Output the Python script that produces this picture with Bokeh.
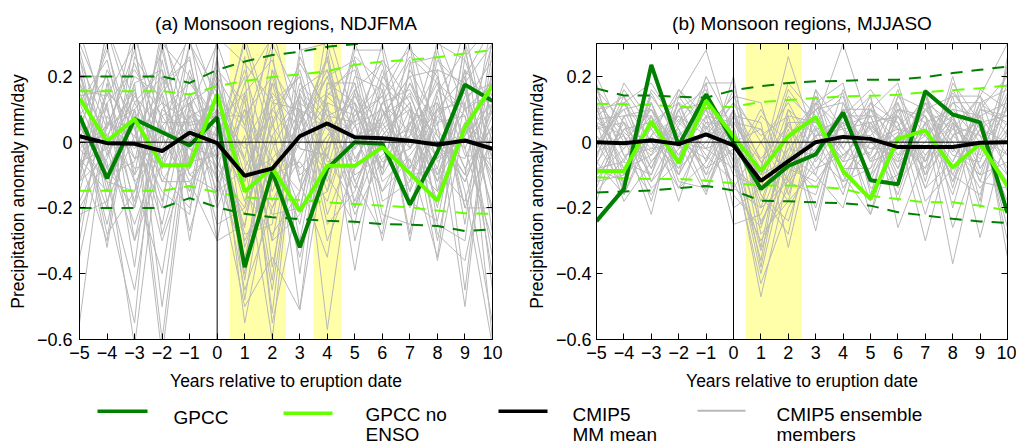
from bokeh.plotting import figure
from bokeh.layouts import column, row
from bokeh.models import (Range1d, LinearAxis, FixedTicker, CustomJSTickFormatter,
                          Span, BoxAnnotation)
from bokeh.core.properties import value
from bokeh.embed import file_html
from bokeh.resources import INLINE

FONT = "Liberation Sans"

# Years relative to the eruption
years = list(range(-5, 11))
y_ticks = [-0.6, -0.4, -0.2, 0.0, 0.2]

# ---------------- (a) Monsoon regions, NDJFMA ----------------
a_title = "(a) Monsoon regions, NDJFMA"
a_gpcc = [0.08, -0.11, 0.07, 0.03, -0.01, 0.075, -0.38, -0.09, -0.32, -0.08,
          0.0, -0.005, -0.19, -0.03, 0.175, 0.125]
a_gpcc_noenso = [0.133, 0.003, 0.07, -0.07, -0.07, 0.145, -0.15, -0.078, -0.21,
                 -0.072, -0.072, -0.015, -0.095, -0.178, 0.045, 0.172]
a_mm_mean = [0.018, -0.003, -0.005, -0.027, 0.029, -0.003, -0.102, -0.08, 0.018,
             0.057, 0.015, 0.012, 0.004, -0.008, 0.005, -0.02]
a_gpcc_hi = [0.20, 0.20, 0.20, 0.20, 0.18, 0.22, 0.245, 0.265, 0.275, 0.29,
             0.298, 0.31, 0.32, 0.33, 0.34, 0.35]
a_gpcc_lo = [-0.20, -0.20, -0.20, -0.20, -0.17, -0.198, -0.218, -0.228, -0.234,
             -0.239, -0.242, -0.249, -0.251, -0.255, -0.27, -0.265]
a_noenso_hi = [0.155, 0.155, 0.155, 0.155, 0.145, 0.17, 0.186, 0.198, 0.206,
               0.216, 0.235, 0.245, 0.25, 0.258, 0.27, 0.28]
a_noenso_lo = [-0.148, -0.148, -0.148, -0.148, -0.133, -0.153, -0.168, -0.172,
               -0.176, -0.183, -0.188, -0.193, -0.198, -0.208, -0.216, -0.218]
a_shade = [(0.45, 2.5), (3.5, 4.5)]
a_members = [
    [0.05, -0.10, 0.12, -0.05, 0.08, 0.02, -0.15, -0.08, 0.10, 0.04, -0.06, 0.12, 0.03, -0.10, 0.06, -0.02],
    [-0.12, 0.06, -0.02, 0.15, -0.08, 0.10, -0.05, -0.20, 0.02, 0.14, 0.05, -0.08, 0.10, 0.02, -0.12, 0.08],
    [0.18, 0.02, -0.10, 0.05, 0.12, -0.06, -0.22, 0.05, -0.08, 0.02, 0.16, 0.04, -0.12, 0.08, 0.15, -0.05],
    [-0.05, -0.15, 0.08, -0.12, 0.02, 0.14, 0.04, -0.12, 0.15, -0.06, -0.02, 0.08, 0.14, -0.05, 0.02, 0.20],
    [0.08, 0.20, -0.05, 0.02, -0.15, 0.05, -0.30, -0.10, 0.06, 0.20, -0.10, -0.04, 0.06, 0.12, -0.08, 0.05],
    [-0.20, -0.05, 0.15, -0.08, 0.10, -0.12, 0.10, -0.05, -0.15, 0.08, 0.12, -0.15, 0.02, 0.18, 0.10, -0.12],
    [0.02, 0.10, -0.18, 0.20, 0.05, 0.08, -0.12, 0.15, 0.04, -0.10, 0.05, 0.10, -0.06, -0.15, 0.22, 0.10],
    [0.12, -0.08, 0.05, -0.25, 0.15, -0.02, -0.45, -0.20, -0.05, 0.10, 0.02, -0.02, 0.18, -0.02, -0.05, 0.15],
    [-0.08, 0.12, 0.22, 0.08, -0.05, 0.20, 0.05, -0.30, 0.12, 0.05, -0.14, 0.06, -0.10, 0.06, 0.08, -0.20],
    [0.15, -0.02, -0.30, 0.10, 0.02, -0.08, -0.20, 0.02, -0.20, -0.15, 0.08, 0.18, 0.08, -0.08, -0.18, 0.12],
    [-0.02, 0.05, 0.10, -0.18, 0.20, 0.06, 0.15, -0.15, 0.08, 0.15, 0.10, -0.06, -0.02, 0.10, 0.12, 0.25],
    [0.22, -0.18, 0.02, 0.12, -0.10, -0.15, -0.08, 0.10, -0.02, -0.04, -0.20, 0.02, 0.12, -0.12, 0.04, -0.08],
    [-0.15, 0.15, -0.08, -0.05, 0.08, 0.12, -0.55, -0.12, 0.18, 0.08, 0.06, 0.14, -0.15, 0.04, -0.10, 0.05],
    [0.10, -0.32, 0.18, 0.22, -0.02, -0.04, 0.08, 0.20, -0.10, -0.02, 0.15, -0.10, 0.05, 0.22, 0.18, -0.15],
    [-0.55, 0.08, -0.05, -0.02, 0.12, 0.18, -0.10, -0.05, 0.05, 0.25, -0.05, 0.08, 0.20, -0.06, 0.02, 0.30],
    [0.06, -0.06, -0.62, 0.05, -0.12, -0.30, -0.25, 0.12, 0.20, -0.12, 0.12, -0.02, -0.08, 0.14, -0.15, -0.62],
    [-0.10, 0.22, 0.06, -0.65, 0.04, 0.02, 0.20, -0.55, -0.15, 0.06, -0.08, 0.20, 0.10, -0.20, 0.30, 0.08],
    [0.25, 0.04, 0.28, -0.10, -0.20, 0.10, -0.02, 0.08, -0.51, 0.18, 0.18, -0.12, -0.04, 0.08, -0.02, -0.30],
    [-0.02, -0.12, -0.15, 0.18, 0.25, -0.10, -0.35, -0.02, 0.14, -0.57, 0.02, 0.05, 0.15, -0.10, 0.14, 0.18],
    [0.14, 0.16, 0.04, -0.30, -0.05, 0.22, 0.12, -0.18, 0.00, 0.12, -0.39, 0.10, -0.02, 0.20, -0.04, -0.05],
    [-0.06, -0.02, 0.20, 0.14, -0.27, 0.04, -0.40, 0.22, -0.12, 0.02, 0.06, -0.30, 0.08, -0.05, 0.10, 0.15],
    [0.30, 0.10, -0.12, -0.02, 0.14, -0.20, 0.02, -0.45, 0.10, -0.08, 0.20, 0.16, -0.30, 0.12, -0.20, 0.02],
    [0.02, -0.20, 0.32, 0.06, 0.06, 0.08, -0.18, 0.06, 0.24, 0.10, -0.12, 0.04, 0.10, -0.36, 0.06, -0.10],
    [-0.25, 0.12, -0.38, 0.25, -0.10, -0.02, 0.22, -0.10, -0.06, -0.18, 0.10, -0.08, 0.22, 0.06, -0.50, 0.22],
    [0.04, 0.28, 0.00, -0.20, 0.30, 0.15, -0.12, 0.18, 0.06, 0.22, -0.02, 0.22, -0.08, 0.16, 0.08, -0.40],
    [-0.12, -0.04, 0.14, 0.04, -0.02, -0.10, -0.50, -0.35, -0.51, 0.00, 0.14, 0.00, 0.04, -0.12, 0.20, 0.35],
    [0.18, -0.10, -0.06, 0.32, 0.10, 0.30, 0.05, 0.30, 0.12, -0.25, -0.15, 0.12, 0.16, 0.00, -0.12, 0.10],
    [0.00, 0.02, 0.16, -0.12, -0.12, 0.00, 0.30, 0.00, -0.25, 0.16, 0.22, -0.18, -0.12, 0.25, 0.16, -0.22],
    [-0.30, 0.18, -0.20, 0.10, 0.18, 0.06, -0.28, -0.25, 0.28, 0.30, 0.00, 0.06, 0.25, -0.15, 0.02, 0.12],
    [0.08, -0.25, 0.10, -0.60, 0.08, -0.15, 0.15, 0.25, -0.02, -0.04, 0.28, 0.28, -0.20, 0.10, -0.08, -0.55],
    [0.20, 0.00, -0.25, 0.00, 0.35, 0.12, -0.06, -0.60, 0.16, 0.06, -0.22, -0.05, 0.02, 0.30, 0.25, 0.00],
    [-0.08, 0.34, 0.06, 0.28, -0.06, -0.04, 0.00, 0.14, -0.30, 0.12, 0.08, 0.14, 0.30, -0.25, -0.30, 0.28],
    [0.12, 0.25, -0.10, 0.35, 0.00, 0.18, -0.05, 0.35, 0.02, 0.20, 0.25, -0.02, 0.18, 0.05, 0.35, -0.10],
    [-0.18, 0.00, 0.35, -0.08, 0.22, -0.05, 0.32, 0.05, 0.22, -0.05, 0.30, 0.10, -0.15, 0.28, -0.02, 0.18],
    [0.26, -0.15, 0.10, 0.20, -0.18, 0.25, -0.15, -0.28, -0.15, 0.35, 0.06, 0.25, 0.12, -0.30, 0.12, -0.35],
    [0.03, 0.30, -0.12, -0.40, 0.12, -0.08, 0.18, 0.32, 0.30, -0.10, -0.25, 0.20, 0.28, 0.20, -0.25, 0.32],
    [-0.35, 0.05, 0.24, 0.02, -0.15, 0.26, -0.32, -0.05, -0.35, 0.00, 0.18, -0.22, -0.25, 0.15, 0.28, -0.05],
    [0.10, -0.28, -0.15, 0.15, 0.26, -0.18, 0.26, -0.38, 0.05, 0.26, -0.30, 0.02, 0.12, -0.28, -0.36, 0.05],
    [0.16, 0.14, 0.30, -0.28, 0.00, 0.10, -0.42, 0.10, 0.20, -0.22, 0.00, 0.30, -0.02, 0.10, 0.20, -0.60],
    [-0.22, -0.18, -0.55, 0.30, 0.20, -0.02, 0.00, -0.22, -0.20, 0.14, 0.24, -0.10, 0.30, 0.02, -0.10, 0.38],
    [0.34, 0.06, 0.02, -0.15, -0.22, 0.32, 0.24, 0.12, 0.10, -0.30, -0.08, 0.16, -0.28, 0.32, 0.10, 0.18],
    [-0.05, -0.30, 0.26, 0.12, 0.06, -0.25, -0.20, 0.28, -0.40, 0.18, 0.12, -0.25, 0.06, -0.18, 0.30, -0.28],
    [0.20, 0.20, -0.30, -0.06, 0.30, 0.08, 0.08, -0.42, 0.26, 0.08, -0.18, 0.08, 0.20, 0.22, -0.45, 0.24],
    [-0.12, 0.35, 0.12, 0.22, -0.30, 0.16, -0.38, 0.18, -0.12, -0.35, 0.16, 0.24, -0.10, -0.08, 0.22, -0.45],
    [0.00, -0.12, -0.45, 0.08, 0.14, -0.30, 0.14, -0.52, 0.16, 0.22, -0.12, -0.28, 0.24, 0.26, 0.00, 0.10],
    [0.28, -0.04, 0.18, -0.50, 0.10, 0.04, -0.26, 0.22, 0.08, -0.15, 0.26, 0.18, -0.18, -0.24, 0.18, 0.30],
    [-0.10, 0.16, 0.04, 0.16, 0.32, -0.12, 0.10, -0.30, -0.22, 0.28, -0.20, 0.12, 0.26, 0.18, -0.20, -0.20],
    [0.22, -0.08, -0.20, 0.30, -0.08, 0.22, -0.48, 0.02, 0.14, 0.04, 0.02, -0.15, -0.05, -0.35, 0.26, 0.36],
]

# ---------------- (b) Monsoon regions, MJJASO ----------------
b_title = "(b) Monsoon regions, MJJASO"
b_gpcc = [-0.24, -0.142, 0.235, -0.01, 0.145, 0.0, -0.142, -0.072, -0.037, 0.09,
          -0.116, -0.128, 0.155, 0.084, 0.06, -0.215]
b_gpcc_noenso = [-0.088, -0.088, 0.063, -0.064, 0.126, 0.018, -0.088, 0.018, 0.076,
                 -0.088, -0.173, 0.01, 0.036, -0.077, -0.004, -0.134]
b_mm_mean = [0.0, -0.003, 0.006, -0.006, 0.024, -0.01, -0.118, -0.058, 0.0, 0.016,
             0.01, -0.015, -0.015, -0.015, -0.002, 0.0]
b_gpcc_hi = [0.163, 0.142, 0.142, 0.138, 0.135, 0.158, 0.17, 0.18, 0.185, 0.186,
             0.19, 0.19, 0.198, 0.21, 0.22, 0.23]
b_gpcc_lo = [-0.153, -0.15, -0.147, -0.14, -0.133, -0.147, -0.178, -0.18, -0.183,
             -0.186, -0.193, -0.213, -0.223, -0.233, -0.241, -0.246]
b_noenso_hi = [0.117, 0.115, 0.113, 0.108, 0.103, 0.108, 0.122, 0.128, 0.134,
               0.139, 0.141, 0.144, 0.152, 0.158, 0.164, 0.172]
b_noenso_lo = [-0.107, -0.11, -0.112, -0.112, -0.117, -0.125, -0.132, -0.132,
               -0.135, -0.142, -0.163, -0.173, -0.183, -0.183, -0.193, -0.208]
b_shade = [(0.45, 2.5)]
b_members = [
    [0.05, -0.02, 0.08, -0.05, 0.10, 0.00, -0.10, -0.05, 0.04, 0.06, -0.02, 0.03, -0.06, 0.05, 0.02, -0.04],
    [-0.06, 0.04, -0.03, 0.07, -0.02, -0.08, -0.15, -0.02, 0.08, -0.04, 0.05, -0.05, 0.04, -0.08, 0.06, 0.08],
    [0.10, -0.08, 0.02, -0.10, 0.06, 0.05, -0.20, -0.12, -0.02, 0.10, -0.06, 0.08, -0.10, 0.02, -0.05, 0.02],
    [-0.02, 0.12, -0.06, 0.03, -0.08, 0.08, -0.05, 0.05, -0.08, 0.02, 0.10, -0.08, 0.06, 0.10, 0.00, -0.10],
    [0.14, 0.00, 0.10, -0.02, 0.02, -0.04, -0.47, -0.10, 0.05, -0.06, -0.03, 0.05, 0.12, -0.03, 0.08, 0.12],
    [-0.10, 0.06, -0.08, 0.10, 0.12, 0.02, -0.08, 0.26, 0.00, 0.05, 0.08, -0.12, -0.02, 0.07, -0.10, -0.06],
    [0.02, -0.12, 0.15, 0.00, -0.05, 0.10, -0.12, -0.06, 0.12, -0.10, 0.02, 0.10, 0.08, -0.12, 0.12, 0.05],
    [0.07, 0.08, -0.12, 0.05, 0.15, -0.06, -0.43, -0.20, -0.05, 0.08, -0.10, 0.00, -0.08, 0.04, -0.02, 0.15],
    [-0.15, -0.05, 0.04, -0.08, 0.00, 0.12, 0.02, 0.08, 0.06, 0.30, 0.04, -0.04, 0.02, 0.12, 0.05, -0.15],
    [0.12, 0.03, -0.04, 0.12, -0.10, -0.02, -0.33, -0.08, -0.12, 0.00, 0.12, 0.06, -0.14, -0.06, 0.10, 0.20],
    [-0.05, 0.18, 0.06, -0.04, 0.08, 0.06, -0.06, 0.02, 0.10, -0.08, -0.08, 0.14, 0.10, 0.00, -0.14, -0.02],
    [0.16, -0.04, -0.02, 0.08, -0.04, -0.12, -0.30, -0.14, 0.02, 0.04, 0.06, -0.06, 0.00, 0.15, 0.04, 0.10],
    [0.00, 0.10, 0.12, -0.06, 0.20, 0.04, -0.18, 0.04, -0.27, 0.12, -0.05, 0.02, 0.14, -0.10, 0.08, -0.30],
    [-0.08, -0.06, -0.10, 0.16, 0.04, 0.14, 0.12, -0.16, 0.08, -0.02, 0.14, -0.26, -0.04, 0.08, -0.08, 0.06],
    [0.08, 0.14, 0.00, -0.14, -0.06, 0.20, -0.25, -0.04, 0.14, -0.14, 0.00, 0.04, -0.30, 0.02, 0.14, 0.30],
    [-0.12, -0.10, 0.14, 0.02, 0.10, -0.10, -0.14, 0.10, -0.06, 0.06, -0.22, 0.10, 0.06, -0.37, 0.00, -0.12],
    [0.04, 0.06, -0.18, 0.10, -0.12, 0.08, 0.06, -0.32, 0.04, -0.05, 0.08, -0.10, 0.12, 0.06, -0.29, 0.04],
    [0.18, -0.14, 0.08, -0.18, 0.08, -0.25, -0.22, 0.00, 0.10, 0.15, -0.12, 0.08, -0.06, 0.12, 0.12, -0.35],
    [-0.03, 0.02, -0.22, 0.14, 0.28, 0.00, -0.10, 0.06, -0.10, -0.20, 0.10, 0.00, 0.08, -0.04, -0.06, 0.18],
    [0.11, -0.16, 0.05, 0.00, -0.02, 0.16, -0.28, -0.18, 0.16, 0.04, -0.04, 0.16, -0.12, 0.18, 0.06, -0.08],
    [-0.18, 0.08, 0.10, -0.10, 0.05, -0.14, 0.00, 0.12, -0.04, -0.12, 0.06, -0.08, 0.16, -0.14, 0.16, 0.10],
    [0.06, -0.18, -0.06, 0.06, 0.18, 0.18, -0.16, -0.24, 0.02, 0.08, 0.16, 0.04, 0.02, 0.08, -0.12, 0.14],
    [-0.07, 0.12, 0.18, 0.04, -0.15, 0.04, -0.38, 0.02, 0.12, 0.18, -0.16, 0.12, -0.18, -0.08, 0.04, 0.00],
    [0.20, 0.02, -0.14, -0.06, 0.12, -0.06, 0.10, -0.06, -0.14, 0.02, 0.02, -0.16, 0.10, 0.14, -0.18, 0.24],
    [0.04, 0.10, -0.08, 0.12, -0.06, 0.08, -0.12, 0.14, 0.06, -0.06, 0.10, 0.04, -0.02, 0.10, 0.08, -0.04],
    [-0.10, -0.02, 0.10, -0.04, 0.14, -0.02, -0.24, -0.10, 0.10, 0.12, -0.06, -0.02, 0.10, -0.02, -0.10, 0.14],
    [0.12, -0.10, 0.02, 0.08, 0.02, 0.12, -0.06, -0.18, -0.08, -0.04, 0.04, 0.12, -0.06, 0.16, 0.02, -0.18],
    [-0.04, 0.14, -0.12, -0.02, 0.10, -0.14, -0.20, 0.06, 0.06, 0.14, -0.14, -0.10, 0.04, -0.16, 0.10, 0.06],
    [0.08, -0.06, 0.12, -0.12, -0.14, 0.06, 0.04, -0.12, -0.16, 0.08, 0.08, 0.06, -0.22, 0.06, -0.04, 0.22],
    [-0.12, 0.04, 0.06, 0.12, 0.06, -0.04, -0.36, 0.10, 0.02, -0.16, 0.12, -0.04, 0.10, 0.04, 0.14, -0.10],
    [0.02, -0.08, -0.04, 0.04, -0.10, 0.10, -0.16, -0.28, 0.12, 0.04, -0.18, 0.14, 0.02, -0.10, -0.16, 0.12],
    [0.10, 0.12, 0.00, -0.08, 0.12, -0.08, 0.08, 0.00, -0.20, 0.10, 0.04, -0.14, 0.14, 0.02, 0.06, -0.26],
    [-0.08, -0.12, 0.16, 0.06, -0.02, 0.02, -0.10, 0.16, 0.04, -0.12, -0.08, 0.02, -0.08, 0.20, -0.08, 0.04],
    [0.06, 0.02, -0.10, 0.10, 0.16, -0.16, -0.26, -0.02, -0.04, 0.06, 0.14, -0.18, 0.06, -0.06, 0.12, 0.16],
    [-0.14, 0.08, 0.08, -0.14, 0.04, 0.14, 0.00, -0.14, 0.14, -0.02, -0.10, 0.10, -0.14, 0.08, -0.12, -0.14],
    [0.14, -0.04, -0.16, 0.02, -0.08, -0.02, -0.40, -0.04, -0.10, 0.16, 0.00, -0.06, 0.16, -0.20, 0.10, 0.08],
    [-0.02, 0.16, 0.04, 0.14, 0.02, 0.06, -0.08, 0.18, 0.08, -0.08, 0.06, 0.08, -0.04, 0.06, -0.20, 0.26],
    [0.00, -0.14, 0.12, -0.10, 0.18, -0.20, -0.14, -0.08, 0.02, 0.02, -0.02, -0.02, 0.12, -0.12, 0.04, -0.22],
    [0.16, 0.06, -0.02, 0.00, -0.16, 0.10, -0.32, 0.08, -0.24, 0.10, 0.10, 0.18, -0.10, 0.14, 0.14, 0.02],
    [-0.06, -0.16, 0.02, 0.16, 0.08, 0.00, 0.04, -0.12, 0.16, -0.10, -0.22, 0.02, 0.08, -0.26, -0.02, 0.10],
]

# Legend rows: (label lines, colour, width)
legend_entries = [
    (["GPCC"], "#008000", 3.5),
    (["GPCC no", "ENSO"], "#66ff00", 3.5),
    (["CMIP5", "MM mean"], "#000000", 3.5),
    (["CMIP5 ensemble", "members"], "#b8b8b8", 2),
]

DARK = "#008000"
LIGHT = "#66ff00"
GREY = "#b8b8b8"
SHADE = "#ffffaa"

y_fmt = CustomJSTickFormatter(code="""
    if (Math.abs(tick) < 1e-9) { return '0'; }
    return tick.toFixed(1).replace('-', '\u2212');
""")
x_fmt = CustomJSTickFormatter(code="return tick.toFixed(0).replace('-', '\u2212');")


def blank_axis(ticks):
    ax = LinearAxis(ticker=FixedTicker(ticks=ticks),
                    formatter=CustomJSTickFormatter(code="return '';"),
                    major_tick_in=6, major_tick_out=0,
                    minor_tick_line_color=None,
                    major_label_text_font_size="0px",
                    major_label_standoff=0,
                    axis_line_color="black")
    return ax


def panel(title, members, gpcc, noenso, mean, g_hi, g_lo, n_hi, n_lo, shade,
          left, right, tick_standoff, label_standoff):
    p = figure(width=508, height=395, x_range=Range1d(-5, 10),
               y_range=Range1d(-0.6, 0.3), output_backend="svg",
               toolbar_location=None, min_border_left=left,
               min_border_right=right, min_border_top=42, min_border_bottom=56)
    p.xgrid.visible = False
    p.ygrid.visible = False
    p.outline_line_color = "black"
    p.outline_line_width = 1
    p.background_fill_color = "white"

    p.title.text = title
    p.title.align = "center"
    p.title.text_font = FONT
    p.title.text_font_size = "19px"
    p.title.text_font_style = "normal"
    p.title.text_color = "black"
    p.title.standoff = 20

    for x0, x1 in shade:
        p.add_layout(BoxAnnotation(left=x0, right=x1, fill_color=SHADE,
                                   fill_alpha=1, line_alpha=0, level="underlay"))

    p.multi_line(xs=[years] * len(members), ys=members, line_color=GREY,
                 line_width=1)

    p.add_layout(Span(location=0, dimension="height", line_color="black",
                      line_width=1))
    p.add_layout(Span(location=0, dimension="width", line_color="black",
                      line_width=1))

    for ys, col in ((g_hi, DARK), (g_lo, DARK), (n_hi, LIGHT), (n_lo, LIGHT)):
        p.line(years, ys, line_color=col, line_width=2, line_dash="12 9")

    p.line(years, gpcc, line_color=DARK, line_width=4)
    p.line(years, noenso, line_color=LIGHT, line_width=4)
    p.line(years, mean, line_color="black", line_width=4)

    for ax in (p.xaxis[0], p.yaxis[0]):
        ax.major_tick_in = 6
        ax.major_tick_out = 0
        ax.minor_tick_line_color = None
        ax.axis_line_color = "black"
        ax.major_label_text_font = FONT
        ax.major_label_text_font_size = "18px"
        ax.major_label_text_color = "black"
        ax.axis_label_text_font = FONT
        ax.axis_label_text_font_size = "17.5px"
        ax.axis_label_text_font_style = "normal"
        ax.axis_label_text_color = "black"

    p.xaxis.ticker = FixedTicker(ticks=years)
    p.xaxis.formatter = x_fmt
    p.xaxis.axis_label = "Years relative to eruption date"
    p.xaxis.major_label_standoff = 6
    p.xaxis.axis_label_standoff = 9

    p.yaxis.ticker = FixedTicker(ticks=y_ticks)
    p.yaxis.formatter = y_fmt
    p.yaxis.axis_label = "Precipitation anomaly mm/day"
    p.yaxis.major_label_standoff = tick_standoff
    p.yaxis.axis_label_standoff = label_standoff

    p.add_layout(blank_axis(y_ticks), "right")
    p.add_layout(blank_axis(years), "above")
    return p


pa = panel(a_title, a_members, a_gpcc, a_gpcc_noenso, a_mm_mean, a_gpcc_hi,
           a_gpcc_lo, a_noenso_hi, a_noenso_lo, a_shade, 79, 16, 7, 6)
pb = panel(b_title, b_members, b_gpcc, b_gpcc_noenso, b_mm_mean, b_gpcc_hi,
           b_gpcc_lo, b_noenso_hi, b_noenso_lo, b_shade, 88, 9, 5, 6)

# Legend strip drawn in pixel units
leg = figure(width=1016, height=48, x_range=Range1d(0, 1016), y_range=Range1d(48, 0),
             output_backend="svg", toolbar_location=None, min_border=0,
             x_axis_type=None, y_axis_type=None)
leg.outline_line_color = None
leg.xgrid.visible = False
leg.ygrid.visible = False

sample_x = [(97, 147), (283, 332), (498, 547), (697, 745)]
sample_y = [15.7, 17.7, 15.7, 15.2]
text_x = [173, 365, 572, 776]
for (labels, col, w), (x0, x1), sy, tx in zip(legend_entries, sample_x, sample_y, text_x):
    leg.line([x0, x1], [sy, sy], line_color=col, line_width=w)
    if len(labels) == 1:
        ys = [22]
    else:
        ys = [19, 38.5]
    leg.text(x=[tx] * len(labels), y=ys, text=labels, text_font=value(FONT),
             text_font_size="19px", text_baseline="middle", text_align="left",
             text_color="black")

layout = column(row(pa, pb), leg)
open("out.html", "w").write(file_html(layout, INLINE))
